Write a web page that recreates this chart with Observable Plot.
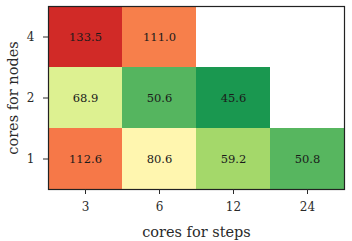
<!DOCTYPE html>
<html>
<head>
<meta charset="utf-8">
<script src="https://cdn.jsdelivr.net/npm/d3@7"></script>
<script src="https://cdn.jsdelivr.net/npm/@observablehq/plot@0.6"></script>
<style>
  html, body { margin: 0; padding: 0; background: #fff; }
  #chart svg { display: block; }
</style>
</head>
<body>
<div id="chart"></div>
<script>
// ---- data ----
const stepCategories = ["3", "6", "12", "24"];
const nodeCategories = ["4", "2", "1"]; // top to bottom
const coresForSteps = ["3", "6", "3", "6", "12", "3", "6", "12", "24"];
const coresForNodes = ["4", "4", "2", "2", "2", "1", "1", "1", "1"];
const runtimes = [133.5, 111.0, 68.9, 50.6, 45.6, 112.6, 80.6, 59.2, 50.8];

// ---- style ----
const rdYlGn = ["#a50026","#d73027","#f46d43","#fdae61","#fee08b","#ffffbf",
                "#d9ef8b","#a6d96a","#66bd63","#1a9850","#006837"];
const cmap = d3.piecewise(d3.interpolateRgb, rdYlGn.slice().reverse());
const font = "'DejaVu Serif', 'Liberation Serif', serif";

const data = runtimes.map((t, i) => ({s: coresForSteps[i], n: coresForNodes[i], t}));

const chart = Plot.plot({
  width: 352,
  height: 241,
  marginLeft: 48,
  marginRight: 8,
  marginTop: 6,
  marginBottom: 52,
  style: {fontFamily: font, fontSize: "12px", color: "#2a2a2a", background: "#fff"},
  x: {domain: stepCategories, padding: 0},
  y: {domain: nodeCategories, padding: 0},
  color: {type: "log", domain: [40, 150], interpolate: cmap},
  marks: [
    Plot.cell(data, {x: "s", y: "n", fill: "t"}),
    Plot.text(data, {x: "s", y: "n", text: d => d.t.toFixed(1), fill: "#1a1a1a", fontSize: 11.5}),
    Plot.frame({stroke: "#222", strokeWidth: 1.2}),
    Plot.axisX({tickSize: 5, tickPadding: 8, label: null, fontSize: 12}),
    Plot.axisX({ticks: [], tickSize: 0, label: "cores for steps", labelAnchor: "center",
                labelArrow: "none", labelOffset: 47, fontSize: 14.5}),
    Plot.axisY({tickSize: 5, tickPadding: 9, label: null, fontSize: 12}),
    Plot.axisY({ticks: [], tickSize: 0, label: "cores for nodes", labelAnchor: "center",
                labelArrow: "none", labelOffset: 41, fontSize: 14.5})
  ]
});
document.getElementById("chart").appendChild(chart);
</script>
</body>
</html>
